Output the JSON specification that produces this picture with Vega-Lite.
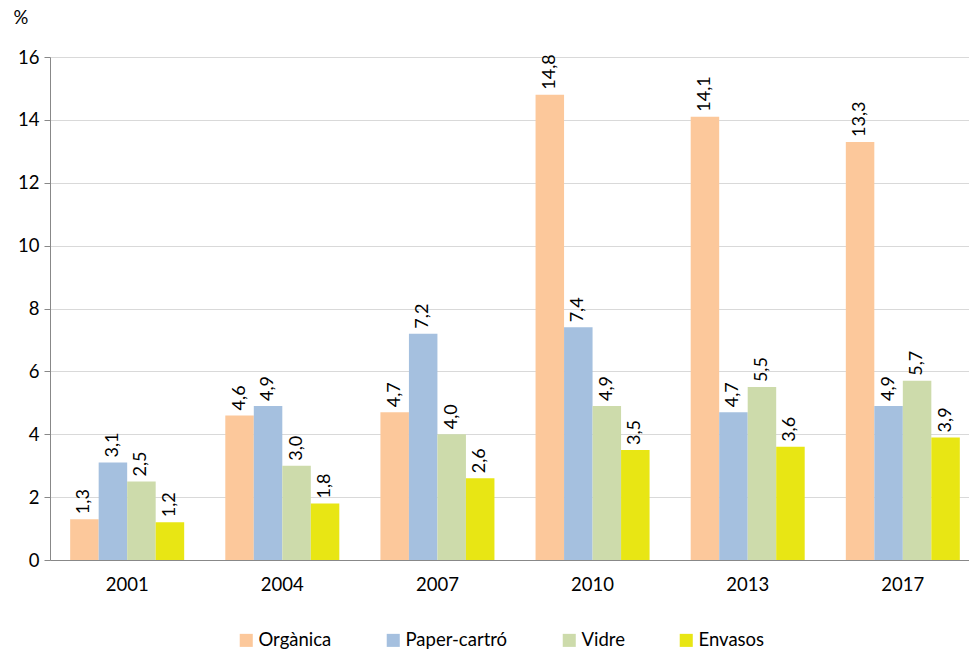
{
  "$schema": "https://vega.github.io/schema/vega-lite/v6.json",
  "autosize": "none",
  "width": 930,
  "height": 503,
  "padding": {"left": 50, "top": 57, "right": 0, "bottom": 94},
  "background": "white",
  "config": {
    "locale": {"number": {"decimal": ",", "thousands": ".", "grouping": [3], "currency": ["", " €"]}},
    "font": "Lato",
    "view": {"stroke": null}
  },
  "data": {
    "values": [
      {"any": "2001", "tipus": "Orgànica", "valor": 1.3},
      {"any": "2001", "tipus": "Paper-cartró", "valor": 3.1},
      {"any": "2001", "tipus": "Vidre", "valor": 2.5},
      {"any": "2001", "tipus": "Envasos", "valor": 1.2},
      {"any": "2004", "tipus": "Orgànica", "valor": 4.6},
      {"any": "2004", "tipus": "Paper-cartró", "valor": 4.9},
      {"any": "2004", "tipus": "Vidre", "valor": 3.0},
      {"any": "2004", "tipus": "Envasos", "valor": 1.8},
      {"any": "2007", "tipus": "Orgànica", "valor": 4.7},
      {"any": "2007", "tipus": "Paper-cartró", "valor": 7.2},
      {"any": "2007", "tipus": "Vidre", "valor": 4.0},
      {"any": "2007", "tipus": "Envasos", "valor": 2.6},
      {"any": "2010", "tipus": "Orgànica", "valor": 14.8},
      {"any": "2010", "tipus": "Paper-cartró", "valor": 7.4},
      {"any": "2010", "tipus": "Vidre", "valor": 4.9},
      {"any": "2010", "tipus": "Envasos", "valor": 3.5},
      {"any": "2013", "tipus": "Orgànica", "valor": 14.1},
      {"any": "2013", "tipus": "Paper-cartró", "valor": 4.7},
      {"any": "2013", "tipus": "Vidre", "valor": 5.5},
      {"any": "2013", "tipus": "Envasos", "valor": 3.6},
      {"any": "2017", "tipus": "Orgànica", "valor": 13.3},
      {"any": "2017", "tipus": "Paper-cartró", "valor": 4.9},
      {"any": "2017", "tipus": "Vidre", "valor": 5.7},
      {"any": "2017", "tipus": "Envasos", "valor": 3.9}
    ]
  },
  "encoding": {
    "x": {
      "field": "any", "type": "nominal",
      "scale": {"paddingInner": 0.265, "paddingOuter": 0.13},
      "axis": {"title": null, "labelAngle": 0, "labelFontSize": 18.5, "labelColor": "#000", "labelPadding": 15, "ticks": false, "domainColor": "#888", "domainWidth": 1}
    },
    "xOffset": {"field": "tipus", "type": "nominal", "sort": ["Orgànica", "Paper-cartró", "Vidre", "Envasos"], "scale": {"paddingInner": 0, "paddingOuter": 0}},
    "y": {
      "field": "valor", "type": "quantitative",
      "scale": {"domain": [0, 16]},
      "axis": {"values": [0, 2, 4, 6, 8, 10, 12, 14, 16], "title": "%", "titleAngle": 0, "titleFontSize": 18.5, "titleFontWeight": "normal", "titleAlign": "left", "titleBaseline": "middle", "titleX": -37, "titleY": -40, "labelFontSize": 18.5, "labelColor": "#000", "labelPadding": 5, "tickSize": 6, "tickOffset": 0, "tickColor": "#888", "domainColor": "#888", "gridColor": "#D9D9D9", "grid": true}
    }
  },
  "layer": [
    {
      "mark": {"type": "bar"},
      "encoding": {
        "color": {
          "field": "tipus", "type": "nominal",
          "sort": ["Orgànica", "Paper-cartró", "Vidre", "Envasos"],
          "scale": {"domain": ["Orgànica", "Paper-cartró", "Vidre", "Envasos"], "range": ["#FCC89B", "#A5C0DF", "#CDDBAB", "#E8E614"]},
          "legend": {"title": null, "orient": "none", "direction": "horizontal", "legendX": 187, "legendY": 574, "symbolType": "square", "symbolSize": 170, "symbolStrokeWidth": 0, "labelFontSize": 18.5, "labelColor": "#000", "columnPadding": 52, "labelOffset": 3}
        }
      }
    },
    {
      "mark": {"type": "text", "angle": 270, "align": "left", "baseline": "middle", "dx": 5, "fontSize": 18, "color": "#000"},
      "encoding": {
        "text": {"field": "valor", "type": "quantitative", "format": ".1f"}
      }
    }
  ]
}
